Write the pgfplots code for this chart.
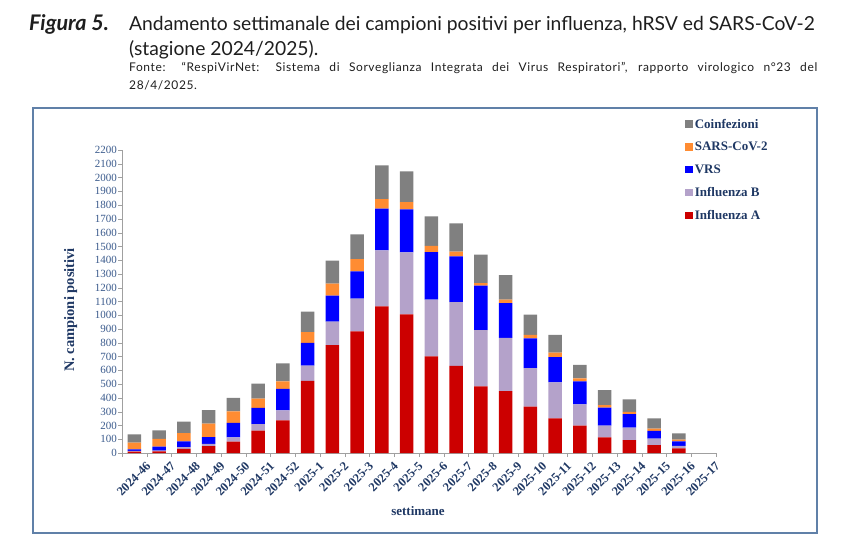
\documentclass[border=0pt]{standalone}
\usepackage{pgfplots}
\pgfplotsset{compat=1.18}
\usepackage{pgfplotstable}
\usepackage{fontspec}
\setmainfont{Liberation Serif}
\newfontfamily\latofont{Lato}
\newfontfamily\latowide[LetterSpace=5]{Lato}
\definecolor{cA}{RGB}{204,0,0}
\definecolor{cB}{RGB}{180,162,202}
\definecolor{cV}{RGB}{0,0,255}
\definecolor{cS}{RGB}{255,140,50}
\definecolor{cC}{RGB}{128,128,128}
\definecolor{navy}{RGB}{31,56,100}
\definecolor{ytc}{RGB}{58,90,140}
\definecolor{framec}{RGB}{96,128,168}
\definecolor{axg}{RGB}{160,160,160}
\definecolor{txt}{RGB}{30,30,30}
\pgfplotstableread{
x A B V S C
0 10 5 12 48 60
1 12 6 28 56 63
2 30 12 42 60 83
3 50 17 48 98 99
4 82 32 104 84 98
5 162 48 117 67 109
6 237 73 155 55 131
7 523 111 165 79 148
8 784 169 189 87 167
9 883 237 199 89 180
10 1065 406 303 70 244
11 1007 450 312 53 223
12 702 411 346 44 215
13 632 464 332 34 205
14 484 409 322 19 206
15 450 385 254 24 179
16 336 281 215 25 147
17 252 261 184 31 129
18 198 155 167 22 97
19 114 84 131 19 109
20 94 90 99 15 92
21 58 46 56 17 75
22 34 17 34 12 46
}\data
\begin{document}
\begin{tikzpicture}[x=1pt,y=1pt]
\path[use as bounding box] (0,0) rectangle (867,557);
\draw[framec, line width=1.5pt] (33,24) rectangle (817,449);
\node[anchor=base west, inner sep=0, text=txt, font=\latofont\bfseries\itshape\fontsize{21.5}{23}\selectfont] at (29,526) {Figura 5.};
\node[anchor=base west, inner sep=0, text=txt, font=\latofont\fontsize{19.3}{23}\selectfont] at (129,526) {Andamento settimanale dei campioni positivi per influenza, hRSV ed SARS-CoV-2};
\node[anchor=base west, inner sep=0, text=txt, font=\latofont\fontsize{19.3}{23}\selectfont] at (129,501.5) {(stagione 2024/2025).};
\node[anchor=base west, inner sep=0, text=txt, font=\latowide\fontsize{12}{13}\selectfont] at (129,485.3) {\makebox[688pt][s]{Fonte: “RespiVirNet: Sistema di Sorveglianza Integrata dei Virus Respiratori”, rapporto virologico n°23 del}};
\node[anchor=base west, inner sep=0, text=txt, font=\latowide\fontsize{12}{13}\selectfont] at (129,467) {28/4/2025.};
\begin{axis}[
  at={(122pt,104pt)}, anchor=south west, scale only axis,
  width=594pt, height=303pt,
  ybar stacked, bar width=13.5pt,
  xmin=-0.5, xmax=23.5, ymin=0, ymax=2200,
  ytick={0,100,...,2200},
  xtick={0,...,23},
  xticklabels={2024-46,2024-47,2024-48,2024-49,2024-50,2024-51,2024-52,2025-1,2025-2,2025-3,2025-4,2025-5,2025-6,2025-7,2025-8,2025-9,2025-10,2025-11,2025-12,2025-13,2025-14,2025-15,2025-16,2025-17},
  minor xtick={-0.5,0.5,...,23.5},
  every major x tick/.style={draw=none},
  axis x line=bottom, axis y line=left,
  axis line style={-, draw=axg},
  tick style={draw=axg},
  major tick length=4pt, minor tick length=4pt, tick align=outside,
  /pgf/number format/assume math mode=true,
  /pgf/number format/1000 sep={},
  yticklabel style={font=\fontsize{11}{13}\selectfont, text=ytc, inner sep=1pt},
  xticklabel style={rotate=45, anchor=east, font=\bfseries\fontsize{12.5}{14}\selectfont, text=navy, inner sep=0pt, xshift=5pt, yshift=-15pt},
  legend style={at={(0.948,1.11)}, anchor=north west, draw=none, fill=none,
    font=\bfseries\fontsize{13}{15}\selectfont, text=navy, row sep=8.5pt, inner sep=0pt,
    /tikz/every even column/.style={inner xsep=2pt}},
  legend cell align=left,
  reverse legend,
  legend image code/.code={\fill[#1] (0pt,-3.75pt) rectangle (7.5pt,3.75pt);},
]
\addplot[fill=cA, draw=none] table[x=x,y=A]{\data};
\addplot[fill=cB, draw=none] table[x=x,y=B]{\data};
\addplot[fill=cV, draw=none] table[x=x,y=V]{\data};
\addplot[fill=cS, draw=none] table[x=x,y=S]{\data};
\addplot[fill=cC, draw=none] table[x=x,y=C]{\data};
\legend{Influenza A,Influenza B,VRS,SARS-CoV-2,Coinfezioni}
\end{axis}
\node[rotate=90, text=navy, font=\bfseries\fontsize{14.5}{16}\selectfont] at (70.7,247) {N. campioni positivi};
\node[text=navy, font=\bfseries\fontsize{13}{15}\selectfont] at (418,46) {settimane};
\end{tikzpicture}
\end{document}
